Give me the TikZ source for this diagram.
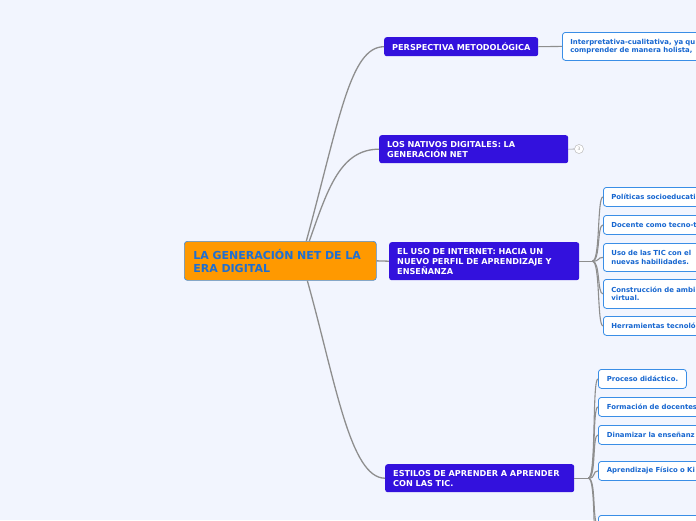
\documentclass[tikz,border=0pt]{standalone}
\usepackage{fontspec}
\setmainfont{DejaVu Sans}
\definecolor{bgc}{HTML}{F2F5FE}
\definecolor{mainc}{HTML}{3311DD}
\definecolor{cenf}{HTML}{FF9900}
\definecolor{cenb}{HTML}{4A8FDA}
\definecolor{cent}{HTML}{1F6FD1}
\definecolor{kidb}{HTML}{3A8EE6}
\definecolor{kidt}{HTML}{1666D0}
\definecolor{linec}{HTML}{8E8E8E}
\hyphenpenalty=10000
\exhyphenpenalty=10000
\begin{document}
\begin{tikzpicture}[x=1pt,y=-1pt,
  central/.style={rectangle, rounded corners=3pt, draw=cenb, line width=0.7pt, fill=cenf, text=cent,
    font=\bfseries\fontsize{11}{13.5}\selectfont, anchor=north west, inner xsep=9pt, inner ysep=0pt, align=left},
  main/.style={rectangle, rounded corners=2.5pt, fill=mainc, text=white,
    font=\bfseries\fontsize{8.15}{10}\selectfont, anchor=north west, inner xsep=8pt, inner ysep=0pt, align=left},
  kid/.style={rectangle, rounded corners=3pt, draw=kidb, line width=0.8pt, fill=white, text=kidt,
    font=\bfseries\fontsize{6.9}{8.5}\selectfont, anchor=north west, inner xsep=8pt, inner ysep=0pt,
    align=left, text width=200pt},
  link/.style={draw=linec, line width=1.3pt},
  sublink/.style={draw=linec, line width=1.1pt},
  counter/.style={circle, draw=linec!60, line width=0.5pt, fill=white, text=linec!80,
    minimum size=9pt, inner sep=0pt, font=\fontsize{4.5}{5}\selectfont}]
\useasboundingbox (0,0) rectangle (696,520);
\fill[bgc] (0,0) rectangle (696,520);
\clip (0,0) rectangle (696,520);

% central
\node[central, text width=174pt, minimum height=39pt] (c) at (184,241)
  {LA GENERACIÓN NET DE LA\\ERA DIGITAL};

% main topics
\node[main, text width=138pt, minimum height=19pt] (p) at (384,37) {\mbox{PERSPECTIVA METODOLÓGICA}};
\node[main, text width=173pt, minimum height=28pt] (n) at (379,135) {LOS NATIVOS DIGITALES: LA\\GENERACIÓN NET};
\node[main, text width=174pt, minimum height=38pt] (e) at (389,242) {EL USO DE INTERNET: HACIA UN\\NUEVO PERFIL DE APRENDIZAJE Y\\ENSEÑANZA};
\node[main, text width=173pt, minimum height=28pt] (s) at (385,464) {ESTILOS DE APRENDER A APRENDER\\CON LAS TIC.};

% connectors from central
\draw[link] ([xshift=26pt]c.north) .. controls +(33,-121) and +(-34,0) .. (p.west);
\draw[link] ([xshift=29pt]c.north) .. controls +(18,-51) and +(-39,0) .. (n.west);
\draw[link] (c.east) -- (e.west);
\draw[link] ([xshift=27pt]c.south) .. controls +(28,100) and +(-35,0) .. (s.west);

% perspectiva child
\node[kid, minimum height=28pt] (p1) at (562,32) {Interpretativa-cualitativa, ya qu\\comprender de manera holista,};
\draw[sublink] (p.east) -- (p1.west);

% nativos counter
\node[counter] (n3) at (579,149) {3};
\draw[draw=linec, line width=0.6pt] (n.east) -- (n3.west);

% el uso children
\node[kid, minimum height=19pt] (e1) at (603,187) {Políticas socioeducati};
\node[kid, minimum height=19pt] (e2) at (603,215) {Docente como tecno-t};
\node[kid, minimum height=28pt] (e3) at (603,243) {Uso de las TIC con el\\nuevas habilidades.};
\node[kid, minimum height=29pt] (e4) at (603,279) {Construcción de ambi\\virtual.};
\node[kid, minimum height=19pt] (e5) at (603,316) {Herramientas tecnoló};
\draw[sublink] (e.east) -- ++(13,0) coordinate (ef);
\foreach \k in {e1,e2,e3,e4,e5}
  \draw[sublink] (ef) .. controls +(8,0) and +(-6,0) .. (\k.west);

% estilos children
\node[kid, text width=71pt, minimum height=19pt, inner xsep=8.5pt] (s1) at (598,369) {\mbox{Proceso didáctico.}};
\node[kid, minimum height=19pt, inner xsep=8.5pt] (s2) at (598,397) {Formación de docentes};
\node[kid, minimum height=19pt, inner xsep=8.5pt] (s3) at (598,425) {Dinamizar la enseñanz};
\node[kid, minimum height=19pt, inner xsep=8.5pt] (s4) at (598,461) {Aprendizaje Físico o Ki};
\node[kid, minimum height=19pt, inner xsep=8.5pt] (s5) at (598,515) {};
\node[kid, minimum height=19pt, inner xsep=8.5pt] (s6) at (598,545) {};
\draw[sublink] (s.east) -- ++(14,0) coordinate (sf);
\foreach \k in {s1,s2,s3,s4,s5,s6}
  \draw[sublink] (sf) .. controls +(8,0) and +(-6,0) .. (\k.west);
\end{tikzpicture}
\end{document}
